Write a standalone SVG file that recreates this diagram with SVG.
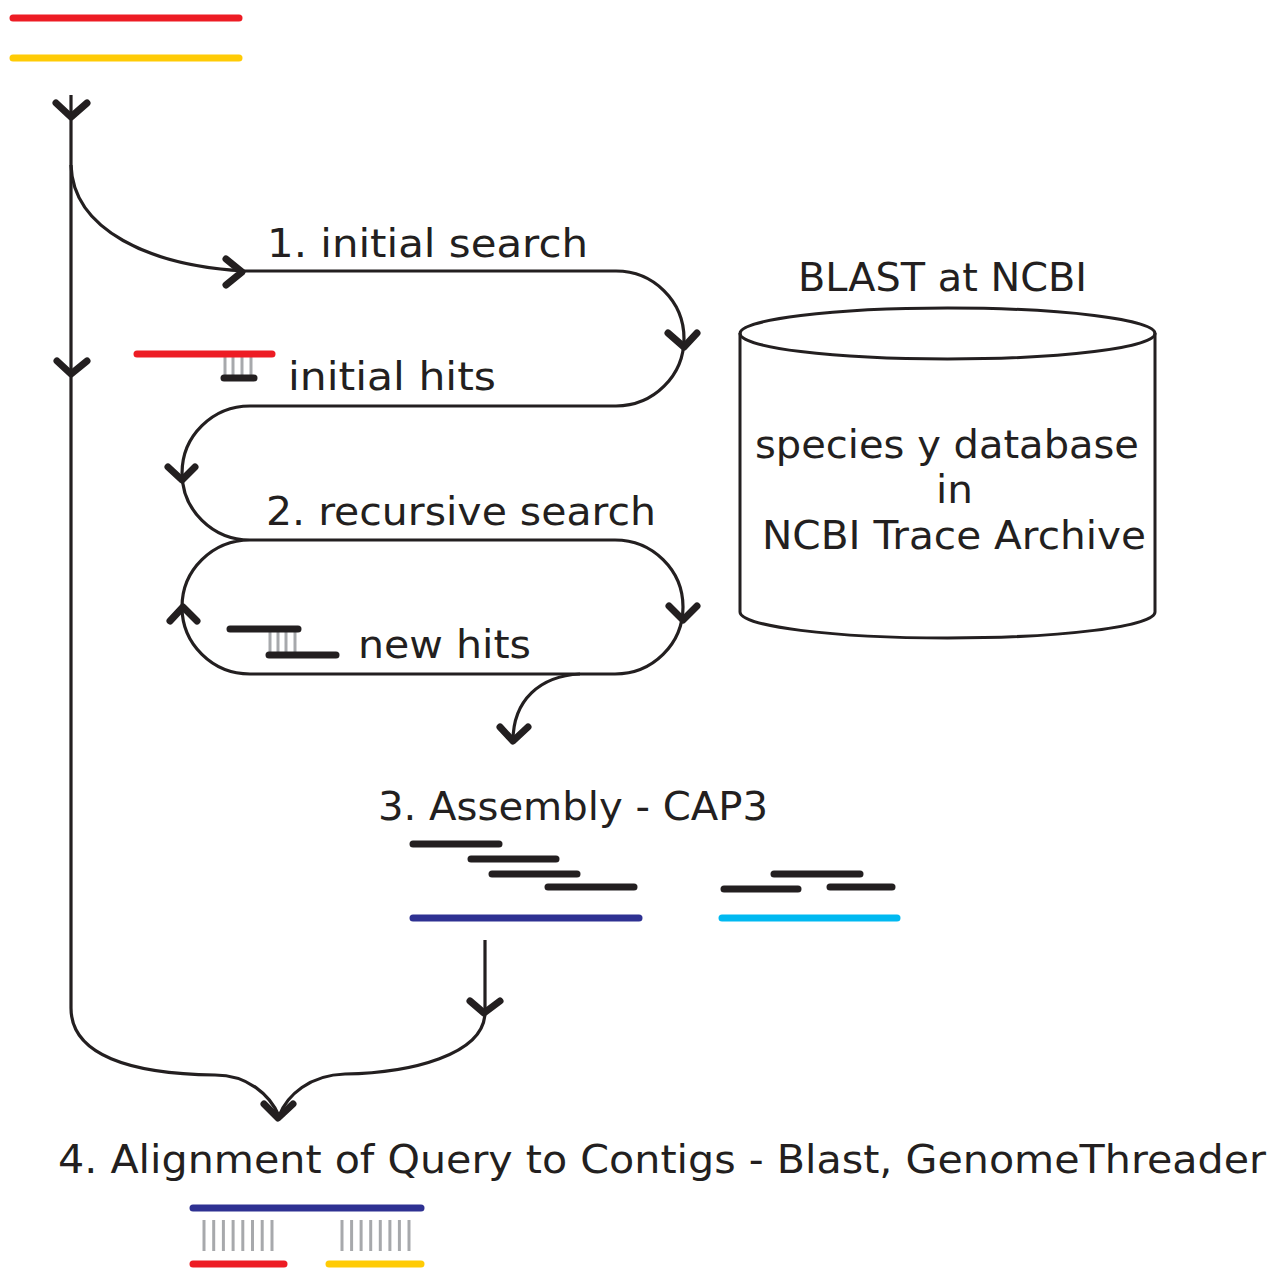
<svg xmlns="http://www.w3.org/2000/svg" width="1271" height="1269" viewBox="0 0 1271 1269">
<style>
.t{font-family:"DejaVu Sans","Liberation Sans",sans-serif;font-size:39px;fill:#231f20}
.c{fill:none;stroke:#231f20;stroke-width:3.2}
.h{fill:none;stroke:#231f20;stroke-width:7;stroke-linecap:round;stroke-linejoin:round}
.bar{stroke-width:7;stroke-linecap:round}
.k{stroke:#231f20}
.tick{stroke:#a7a9ac;stroke-width:3}
</style>
<rect width="1271" height="1269" fill="#fff"/>
<g id="query">
<line class="bar" x1="13" y1="18" x2="239" y2="18" stroke="#ed1c24"/>
<line class="bar" x1="13" y1="58" x2="239" y2="58" stroke="#ffcb05"/>
</g>
<g id="connectors">
<path class="c" d="M71,95 L71,1008 C71,1055 130,1074 215,1075 C248,1075 270,1095 279,1116"/>
<path class="c" d="M485,940 L485,1012 C485,1055 410,1073 345,1074 C310,1075 287,1095 279,1116"/>
<path class="c" d="M71,165 C73,230 150,266 245,271 L616,271 A68,67.5 0 0 1 616,406 L250,406 A68,67 0 0 0 250,540 L615,540 A68,67 0 0 1 615,674 L250,674 A68,67 0 0 1 250,540"/>
<path class="c" d="M580,674 C540,676 513,700 513,741"/>
<polyline class="h" points="56,103 71,117 87,103"/>
<polyline class="h" points="57,361 71,374 87,361"/>
<polyline class="h" points="226,259 242,272 226,285"/>
<polyline class="h" points="668,333 684,347 697,333"/>
<polyline class="h" points="168,467 182,480 195,467"/>
<polyline class="h" points="669,606 683,620 697,606"/>
<polyline class="h" points="170,621 183,607 197,621"/>
<polyline class="h" points="500,727 513,741 528,727"/>
<polyline class="h" points="470,1001 484,1013 500,1001"/>
<polyline class="h" points="264,1104 278,1118 293,1104"/>
</g>
<g id="db">
<path fill="none" stroke="#231f20" stroke-width="3" d="M740,333 L740,612 A207.5,26 0 0 0 1155,612 L1155,333"/>
<ellipse cx="947.5" cy="333.5" rx="207.5" ry="25.5" fill="none" stroke="#231f20" stroke-width="3"/>
<text class="t" x="755" y="458" textLength="384" lengthAdjust="spacingAndGlyphs">species y database</text>
<text class="t" x="936" y="503" textLength="37" lengthAdjust="spacingAndGlyphs">in</text>
<text class="t" x="762" y="549" textLength="384" lengthAdjust="spacingAndGlyphs">NCBI Trace Archive</text>
</g>
<g id="blast-label"><text class="t" x="798" y="291" textLength="289" lengthAdjust="spacingAndGlyphs">BLAST at NCBI</text></g>
<g id="step1"><text class="t" x="267" y="257" textLength="321" lengthAdjust="spacingAndGlyphs">1. initial search</text></g>
<g id="initial-hits">
<line class="tick" x1="225" y1="356" x2="225" y2="376"/>
<line class="tick" x1="233" y1="356" x2="233" y2="376"/>
<line class="tick" x1="242" y1="356" x2="242" y2="376"/>
<line class="tick" x1="251" y1="356" x2="251" y2="376"/>
<line class="bar" x1="137" y1="354" x2="272" y2="354" stroke="#ed1c24"/>
<line class="bar k" x1="224" y1="378" x2="254" y2="378"/>
<text class="t" x="288" y="390" textLength="208" lengthAdjust="spacingAndGlyphs">initial hits</text>
</g>
<g id="step2"><text class="t" x="266" y="525" textLength="390" lengthAdjust="spacingAndGlyphs">2. recursive search</text></g>
<g id="new-hits">
<line class="tick" x1="270" y1="631" x2="270" y2="653"/>
<line class="tick" x1="278" y1="631" x2="278" y2="653"/>
<line class="tick" x1="286" y1="631" x2="286" y2="653"/>
<line class="tick" x1="295" y1="631" x2="295" y2="653"/>
<line class="bar k" x1="230" y1="629" x2="298" y2="629"/>
<line class="bar k" x1="269" y1="655" x2="336" y2="655"/>
<text class="t" x="358" y="658" textLength="173" lengthAdjust="spacingAndGlyphs">new hits</text>
</g>
<g id="step3">
<text class="t" x="378" y="820" textLength="390" lengthAdjust="spacingAndGlyphs">3. Assembly - CAP3</text>
<line class="bar k" x1="413" y1="844" x2="499" y2="844"/>
<line class="bar k" x1="471" y1="859" x2="556" y2="859"/>
<line class="bar k" x1="492" y1="874" x2="577" y2="874"/>
<line class="bar k" x1="548" y1="887" x2="634" y2="887"/>
<line class="bar" x1="413" y1="918" x2="639" y2="918" stroke="#2e3192"/>
<line class="bar k" x1="774" y1="874" x2="860" y2="874"/>
<line class="bar k" x1="724" y1="889" x2="798" y2="889"/>
<line class="bar k" x1="830" y1="887" x2="892" y2="887"/>
<line class="bar" x1="722" y1="918" x2="897" y2="918" stroke="#00b9f1"/>
</g>
<g id="step4">
<text class="t" x="58" y="1173" textLength="1208" lengthAdjust="spacingAndGlyphs">4. Alignment of Query to Contigs - Blast, GenomeThreader</text>
<line class="bar" x1="193" y1="1208" x2="421" y2="1208" stroke="#2e3192"/>
<g class="tick">
<line x1="204" y1="1220" x2="204" y2="1251"/><line x1="213.7" y1="1220" x2="213.7" y2="1251"/><line x1="223.4" y1="1220" x2="223.4" y2="1251"/><line x1="233.1" y1="1220" x2="233.1" y2="1251"/><line x1="242.8" y1="1220" x2="242.8" y2="1251"/><line x1="252.5" y1="1220" x2="252.5" y2="1251"/><line x1="262.2" y1="1220" x2="262.2" y2="1251"/><line x1="272" y1="1220" x2="272" y2="1251"/>
<line x1="342" y1="1220" x2="342" y2="1251"/><line x1="351.6" y1="1220" x2="351.6" y2="1251"/><line x1="361.1" y1="1220" x2="361.1" y2="1251"/><line x1="370.7" y1="1220" x2="370.7" y2="1251"/><line x1="380.3" y1="1220" x2="380.3" y2="1251"/><line x1="389.9" y1="1220" x2="389.9" y2="1251"/><line x1="399.4" y1="1220" x2="399.4" y2="1251"/><line x1="409" y1="1220" x2="409" y2="1251"/>
</g>
<line class="bar" x1="193" y1="1264" x2="284" y2="1264" stroke="#ed1c24"/>
<line class="bar" x1="329" y1="1264" x2="421" y2="1264" stroke="#ffcb05"/>
</g>
</svg>
